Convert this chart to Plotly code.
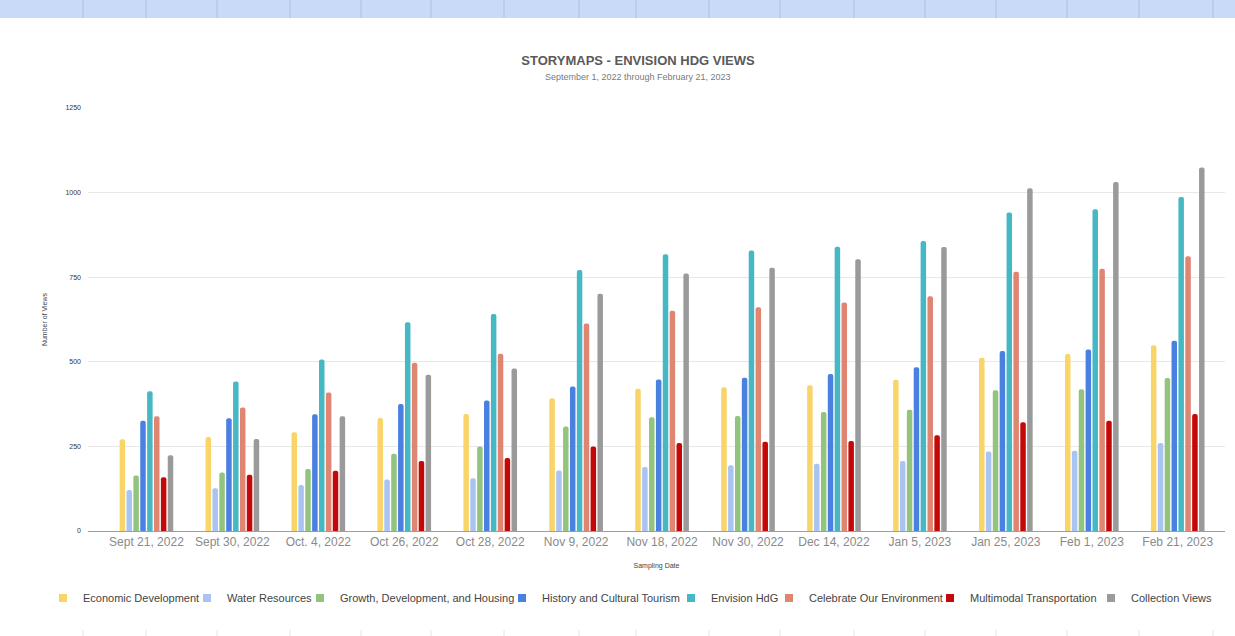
import plotly.graph_objects as go

# ---------------- data ----------------
dates = ["Sept 21, 2022", "Sept 30, 2022", "Oct. 4, 2022", "Oct 26, 2022", "Oct 28, 2022",
         "Nov 9, 2022", "Nov 18, 2022", "Nov 30, 2022", "Dec 14, 2022", "Jan 5, 2023",
         "Jan 25, 2023", "Feb 1, 2023", "Feb 21, 2023"]

economic_development = [271, 278, 292, 334, 346, 392, 420, 425, 431, 447, 512, 523, 549]
water_resources      = [121, 126, 136, 152, 156, 179, 189, 194, 199, 207, 235, 237, 260]
growth_housing       = [164, 173, 183, 228, 250, 309, 336, 340, 352, 358, 416, 419, 452]
history_tourism      = [326, 333, 345, 375, 386, 427, 448, 453, 464, 484, 532, 536, 562]
envision_hdg         = [413, 442, 507, 617, 641, 771, 818, 829, 840, 857, 941, 951, 987]
celebrate_env        = [339, 365, 409, 497, 524, 613, 651, 661, 675, 694, 766, 775, 812]
multimodal           = [159, 166, 178, 207, 216, 250, 260, 264, 266, 283, 321, 326, 346]
collection_views     = [224, 272, 339, 462, 480, 701, 761, 778, 803, 839, 1013, 1031, 1074]

series_names = ["Economic Development", "Water Resources", "Growth, Development, and Housing",
                "History and Cultural Tourism", "Envision HdG", "Celebrate Our Environment",
                "Multimodal Transportation", "Collection Views"]
series_values = [economic_development, water_resources, growth_housing, history_tourism,
                 envision_hdg, celebrate_env, multimodal, collection_views]
y_ticks = [0, 250, 500, 750, 1000, 1250]

# ---------------- style ----------------
COLORS = ["#f9d468", "#a9c4f2", "#93c47d", "#4a80e0", "#46b8c4", "#df8572", "#c40808", "#9a9a9a"]
W, H = 1235, 636
ML, MR, MT, MB = 88, 10, 108, 105
PW, PH = W - ML - MR, H - MT - MB
FONT = "Liberation Sans, Arial, sans-serif"

# legend text start positions (pixels)
LEGEND_TEXT_X = [83, 227, 340, 542, 711, 809, 970, 1131]
LEGEND_Y_PX = 598
N = len(series_names)


def px_x(p):
    return (p - ML) / PW


def px_y(p):
    return (H - MB - p) / PH


def legend_key(i):
    # rightmost entry -> first legend, so left entries are drawn on top
    k = N - i
    return "legend" if k == 1 else f"legend{k}"


fig = go.Figure()
for i, (name, vals) in enumerate(zip(series_names, series_values)):
    fig.add_trace(go.Bar(
        x=dates, y=vals, name=name, legendgroup=name,
        marker=dict(color=COLORS[i], line=dict(width=0), cornerradius=2),
        showlegend=False,
    ))
    # legend-only entry with a small square key, like the original chart
    fig.add_trace(go.Scatter(
        x=[None], y=[None], mode="markers", name=name, legendgroup=name,
        marker=dict(symbol="square", size=8, color=COLORS[i]),
        legend=legend_key(i), showlegend=True, hoverinfo="skip",
    ))

layout_legends = {}
for i, tx in enumerate(LEGEND_TEXT_X):
    layout_legends[legend_key(i)] = dict(
        x=px_x(tx - 40), xanchor="left",
        y=px_y(LEGEND_Y_PX), yanchor="middle",
        orientation="h", bgcolor="rgba(0,0,0,0)", itemsizing="trace",
        font=dict(family=FONT, size=11, color="#444444"),
        itemclick=False, itemdoubleclick=False,
    )

# decorative spreadsheet header band
col_lines = [83, 146, 217, 290, 361, 431, 504, 579, 636, 709, 780, 854, 925, 996, 1067, 1139, 1213]

shapes = [dict(type="rect", xref="paper", yref="paper",
               x0=px_x(0), x1=px_x(W), y0=px_y(18), y1=px_y(0),
               fillcolor="#c9daf8", line=dict(width=0), layer="below")]
for cx in col_lines:
    shapes.append(dict(type="line", xref="paper", yref="paper",
                       x0=px_x(cx), x1=px_x(cx), y0=px_y(18), y1=px_y(0),
                       line=dict(color="#b0bfdb", width=1)))
    shapes.append(dict(type="line", xref="paper", yref="paper",
                       x0=px_x(cx), x1=px_x(cx), y0=px_y(636), y1=px_y(630),
                       line=dict(color="#e4e4e4", width=1)))

fig.update_layout(
    width=W, height=H,
    margin=dict(l=ML, r=MR, t=MT, b=MB),
    paper_bgcolor="white", plot_bgcolor="white",
    barmode="group", bargap=0.36, bargroupgap=0.2,
    font=dict(family=FONT, color="#444444"),
    title=dict(text="<b>STORYMAPS - ENVISION HDG VIEWS</b>",
               x=638 / W, xref="container", xanchor="center",
               y=1 - 60 / H, yref="container", yanchor="middle",
               font=dict(family=FONT, size=13, color="#5a5a5a")),
    annotations=[dict(text="September 1, 2022 through February 21, 2023",
                      xref="paper", yref="paper", x=px_x(638), y=px_y(77),
                      xanchor="center", yanchor="middle", showarrow=False,
                      font=dict(family=FONT, size=9, color="#7a7a7a"))],
    xaxis=dict(
        type="category", range=[-0.68, 12.55],
        showgrid=False, showline=True, linecolor="#9e9e9e", linewidth=1,
        ticks="", tickfont=dict(family=FONT, size=12, color="#8a8a8a"),
        title=dict(text="Sampling Date", font=dict(family=FONT, size=7, color="#444444"),
                   standoff=14),
        fixedrange=True,
    ),
    yaxis=dict(
        range=[0, 1250], tickvals=y_ticks, ticktext=[str(v) for v in y_ticks],
        showgrid=True, gridcolor="#e8e8e8", gridwidth=1,
        zeroline=False, showline=False, ticks="", ticklabelstandoff=6,
        tickfont=dict(family=FONT, size=7, color="#333333"),
        title=dict(text="Number of Views", font=dict(family=FONT, size=7, color="#444444"),
                   standoff=16),
        fixedrange=True,
    ),
    shapes=shapes,
    showlegend=True,
    **layout_legends,
)

fig.write_html("out.html",
               config={"displayModeBar": False},
               post_script="document.body.style.margin='0';document.body.style.overflow='hidden';")
